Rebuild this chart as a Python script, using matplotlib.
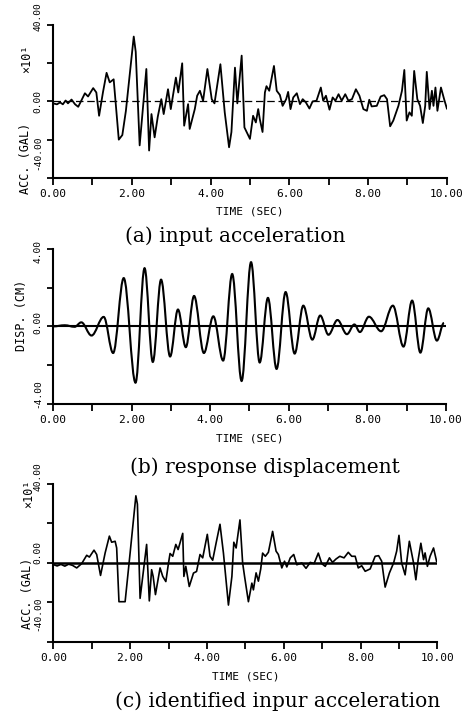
import matplotlib
matplotlib.use("Agg")
import matplotlib.pyplot as plt
from matplotlib.path import Path
from matplotlib.patches import PathPatch
from matplotlib.transforms import ScaledTranslation

# (a) input acceleration, vertices (time s, x10 gal)
a_t = [0.00, 0.10, 0.18, 0.25, 0.32, 0.38, 0.47, 0.56, 0.64, 0.72, 0.81, 0.89,
       1.02, 1.10, 1.17, 1.27, 1.36, 1.44, 1.54, 1.67, 1.76, 1.85, 2.05, 2.10,
       2.20, 2.37, 2.44, 2.50, 2.58, 2.66, 2.75, 2.81, 2.92, 2.99, 3.12, 3.18,
       3.28, 3.33, 3.43, 3.47, 3.60, 3.66, 3.73, 3.81, 3.92, 4.03, 4.10, 4.25,
       4.36, 4.47, 4.53, 4.62, 4.68, 4.79, 4.86, 5.00, 5.08, 5.15, 5.21, 5.25,
       5.32, 5.38, 5.42, 5.49, 5.61, 5.68, 5.76, 5.83, 5.92, 5.97, 6.03, 6.10,
       6.19, 6.27, 6.34, 6.42, 6.51, 6.59, 6.69, 6.80, 6.86, 6.93, 7.02, 7.10,
       7.17, 7.25, 7.33, 7.42, 7.50, 7.59, 7.69, 7.78, 7.88, 7.97, 8.03, 8.09,
       8.22, 8.32, 8.41, 8.48, 8.56, 8.64, 8.77, 8.86, 8.92, 8.98, 9.05, 9.11,
       9.17, 9.25, 9.32, 9.39, 9.45, 9.49, 9.56, 9.62, 9.66, 9.71, 9.76, 9.85,
       9.93, 10.00]
a_v = [-1.0, -1.5, -0.5, -1.5, 0.5, -1.0, 1.0, -1.5, -2.8, 0.5, 4.3, 2.6,
       7.0, 4.7, -7.5, 5.0, 15.0, 10.0, 11.6, -20.0, -17.6, -5.0, 34.0, 26.0,
       -23.0, 17.0, -25.7, -6.6, -18.8, -8.0, 1.2, -6.6, 6.4, -4.0, 12.5, 4.7,
       20.0, -12.7, -1.4, -14.4, -4.0, 3.0, 5.6, 0.3, 17.0, 1.2, -1.0, 19.5,
       -5.7, -24.0, -16.0, 17.7, -1.0, 24.0, -13.6, -19.6, -7.5, -11.0, -4.0, -9.2,
       -16.0, 4.7, 8.0, 5.6, 18.6, 5.6, 3.4, -2.3, 1.2, 5.0, -4.0, 2.1,
       4.3, -1.4, 1.2, -0.5, -3.7, 0.0, 0.4, 7.3, 0.4, 3.0, -4.3, 2.1,
       0.4, 3.8, 0.4, 3.8, 0.4, 1.2, 6.4, 3.0, -4.0, -4.9, 0.9, -2.6,
       -2.3, 2.6, 3.3, 1.2, -13.0, -10.0, -2.3, 5.6, 16.5, -10.0, -5.7, -7.5,
       16.0, 1.2, -2.3, -11.3, -2.3, 15.5, -4.0, 5.6, -2.3, 7.3, -4.9, 7.3,
       1.2, -3.7]

# (b) response displacement, turning points (time s, cm)
b_t = [0.00, 0.30, 0.55, 0.72, 0.98, 1.29, 1.53, 1.80, 2.10, 2.33, 2.54, 2.75,
       2.98, 3.18, 3.38, 3.59, 3.84, 4.08, 4.33, 4.56, 4.80, 5.04, 5.26, 5.47,
       5.69, 5.92, 6.15, 6.37, 6.60, 6.80, 7.01, 7.24, 7.48, 7.67, 7.81, 8.04,
       8.35, 8.65, 8.92, 9.14, 9.35, 9.55, 9.77, 9.95]
b_v = [0.00, 0.06, -0.02, 0.21, -0.47, 0.49, -1.37, 2.49, -2.90, 3.00, -1.83, 2.41,
       -1.55, 0.87, -1.07, 1.57, -1.37, 0.52, -1.76, 2.70, -2.81, 3.31, -1.86, 1.47,
       -2.19, 1.77, -1.40, 1.07, -0.68, 0.56, -0.43, 0.33, -0.40, 0.10, -0.29, 0.50,
       -0.25, 1.07, -1.04, 1.33, -1.35, 0.93, -0.73, 0.18]

# (c) identified input acceleration (time s, x10 gal)
c_t = [0.00, 0.10, 0.20, 0.30, 0.40, 0.50, 0.61, 0.74, 0.87, 0.94, 1.06, 1.13,
       1.23, 1.35, 1.46, 1.52, 1.61, 1.65, 1.71, 1.87, 2.00, 2.15, 2.19, 2.26,
       2.43, 2.50, 2.56, 2.60, 2.66, 2.78, 2.85, 2.93, 3.00, 3.04, 3.11, 3.19,
       3.25, 3.30, 3.37, 3.40, 3.45, 3.54, 3.65, 3.73, 3.82, 3.89, 4.01, 4.08,
       4.15, 4.24, 4.34, 4.43, 4.56, 4.65, 4.70, 4.76, 4.86, 4.93, 4.98, 5.08,
       5.17, 5.21, 5.28, 5.34, 5.40, 5.45, 5.52, 5.60, 5.71, 5.80, 5.86, 5.95,
       6.02, 6.08, 6.17, 6.26, 6.34, 6.47, 6.58, 6.69, 6.79, 6.90, 6.99, 7.08,
       7.19, 7.27, 7.36, 7.46, 7.57, 7.68, 7.77, 7.86, 7.94, 8.03, 8.12, 8.25,
       8.38, 8.47, 8.55, 8.64, 8.75, 8.86, 8.94, 9.00, 9.07, 9.16, 9.27, 9.38,
       9.44, 9.50, 9.57, 9.64, 9.68, 9.74, 9.81, 9.90, 9.98]
c_v = [-0.8, -1.5, -0.7, -1.6, -0.6, -1.2, -2.5, -0.3, 3.9, 3.0, 6.5, 4.3,
       -6.3, 5.1, 13.6, 10.5, 11.0, 7.6, -19.6, -19.6, 5.0, 34.0, 29.8, -17.9,
       9.4, -19.2, -3.4, -6.8, -16.0, -2.5, -6.8, -9.4, 0.0, 4.8, 3.4, 9.4,
       6.8, 10.2, 15.0, -6.8, -1.7, -11.9, -5.1, -4.3, 4.3, 2.6, 14.5, 3.4,
       1.4, 10.2, 19.6, 5.0, -21.3, -6.8, 10.5, 7.6, 21.8, 0.0, -6.8, -19.6,
       -10.2, -13.6, -5.0, -9.2, -3.1, 5.0, 3.4, 5.4, 16.0, 6.0, 4.3, -2.5,
       0.9, -2.0, 2.6, 4.3, -0.9, 0.0, -2.7, 0.3, -0.3, 5.0, -0.3, -1.7,
       2.6, 0.3, 2.0, 3.4, 2.6, 5.4, 3.4, 3.4, -2.5, -1.4, -4.2, -3.0,
       3.4, 3.7, 0.9, -12.2, -5.1, 0.0, 6.0, 14.0, 0.0, -6.0, 11.0, 0.0,
       -8.5, 1.7, 10.0, 1.7, 5.1, -1.7, 3.4, 7.6, 0.8]

x_ticks = list(range(11))
x_labels = ["%.2f" % t if t % 2 == 0 else "" for t in x_ticks]
acc_ticks = [-40, -20, 0, 20, 40]
disp_ticks = [-4, -2, 0, 2, 4]

mono = "DejaVu Sans Mono"
serif = "DejaVu Serif"
W, H = 465, 717

fig = plt.figure(figsize=(W / 100, H / 100), dpi=100)


def setup(ax, yticks, lab_shift, ylab, ylab_xy, mult_xy=None):
    ax.set_xlim(0, 10)
    ax.set_ylim(yticks[0], yticks[-1])
    for s in ["top", "right"]:
        ax.spines[s].set_visible(False)
    for s in ["left", "bottom"]:
        ax.spines[s].set_linewidth(1.5)
    ax.set_xticks(x_ticks)
    ax.set_xticklabels(x_labels, fontsize=8, family=mono)
    ax.set_yticks(yticks)
    ax.set_yticklabels([])
    ax.tick_params(axis="x", direction="out", length=5, width=1.3, pad=3)
    ax.tick_params(axis="y", direction="out", length=4, width=1.3)
    # rotated y tick labels at min / zero / max, shifted up (px) like the plotter put them
    for val, dy in zip([yticks[0], yticks[2], yticks[4]], lab_shift):
        tr = ax.get_yaxis_transform() + ScaledTranslation(-0.15, dy / 100, fig.dpi_scale_trans)
        ax.text(0, val, "%.2f" % val, transform=tr, rotation=90, fontsize=6.8,
                family=mono, ha="center", va="center")
    ax.text(0.5, -0.22, "TIME (SEC)", transform=ax.transAxes, fontsize=8,
            family=mono, ha="center", va="center")
    fig.text(ylab_xy[0] / W, 1 - ylab_xy[1] / H, ylab, fontsize=8.5,
             family=mono, rotation=90, ha="center", va="center")
    if mult_xy:
        fig.text(mult_xy[0] / W, 1 - mult_xy[1] / H, "×10¹", fontsize=8.5,
                 family=mono, rotation=90, ha="center", va="center")


# (a)
ax1 = fig.add_axes([0.114, 0.752, 0.847, 0.213])
setup(ax1, acc_ticks, [25, 0, 8], "ACC. (GAL)", (25, 158), (27, 59))
ax1.axhline(0, color="black", lw=0.9, ls=(0, (6, 3)))
ax1.plot(a_t, a_v, color="black", lw=1.3)

# (b)
ax2 = fig.add_axes([0.114, 0.4365, 0.845, 0.2165])
setup(ax2, disp_ticks, [10, 4, -3], "DISP. (CM)", (21, 315))
ax2.axhline(0, color="black", lw=1.5)
verts = [(b_t[0], b_v[0])]
codes = [Path.MOVETO]
for i in range(1, len(b_t)):
    dt = b_t[i] - b_t[i - 1]
    verts += [(b_t[i - 1] + 0.36 * dt, b_v[i - 1]),
              (b_t[i] - 0.36 * dt, b_v[i]),
              (b_t[i], b_v[i])]
    codes += [Path.CURVE4] * 3
ax2.add_patch(PathPatch(Path(verts, codes), facecolor="none",
                        edgecolor="black", lw=1.5))

# (c)
ax3 = fig.add_axes([0.1146, 0.1046, 0.826, 0.2204])
setup(ax3, acc_ticks, [28, 10, 7], "ACC. (GAL)", (28, 593), (29, 494))
ax3.axhline(0, color="black", lw=1.8)
ax3.plot(c_t, c_v, color="black", lw=1.2)

# captions
fig.text(235 / W, 1 - 236 / H, "(a) input acceleration", fontsize=14.5,
         family=serif, ha="center", va="center")
fig.text(265 / W, 1 - 467 / H, "(b) response displacement", fontsize=14.5,
         family=serif, ha="center", va="center")
fig.text(278 / W, 1 - 701 / H, "(c) identified inpur acceleration", fontsize=14.5,
         family=serif, ha="center", va="center")

fig.savefig("out.png", dpi=100)
